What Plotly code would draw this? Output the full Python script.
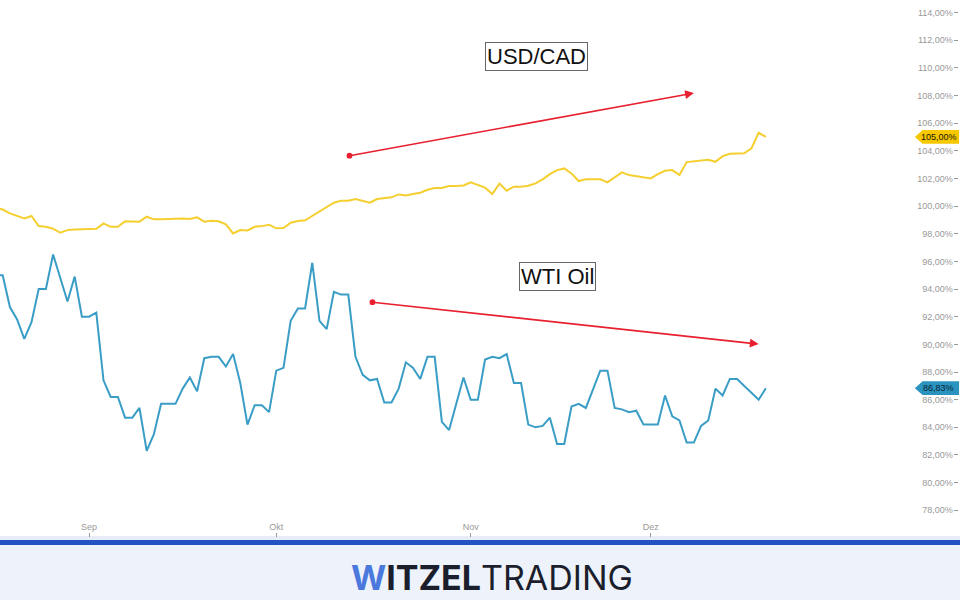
import plotly.graph_objects as go

# ---- data (one point per trading day, index-based x) ----
wti_oil = [95.0, 95.0, 92.7, 91.8, 90.4, 91.6, 94.0, 94.0, 96.5, 94.8, 93.1, 94.9, 92.0, 92.0, 92.3,
           87.4, 86.2, 86.2, 84.7, 84.7, 85.4, 82.3, 83.5, 85.7, 85.7, 85.7, 86.8, 87.6, 86.6, 89.0,
           89.1, 89.1, 88.4, 89.3, 87.2, 84.2, 85.6, 85.6, 85.1, 88.1, 88.3, 91.7, 92.6, 92.6, 95.9,
           91.7, 91.1, 93.8, 93.6, 93.6, 89.1, 87.8, 87.4, 87.5, 85.8, 85.8, 86.8, 88.7, 88.3, 87.5,
           89.1, 89.1, 84.4, 83.8, 85.7, 87.6, 86.0, 86.0, 88.9, 89.1, 89.0, 89.3, 87.2, 87.2, 84.2,
           84.0, 84.1, 84.7, 82.8, 82.8, 85.5, 85.7, 85.4, 86.7, 88.1, 88.1, 85.4, 85.3, 85.1, 85.2,
           84.2, 84.2, 84.2, 86.3, 84.8, 84.5, 82.9, 82.9, 84.1, 84.5, 86.8, 86.3, 87.5, 87.5, 87.0,
           86.5, 86.0, 86.83]
usd_cad = [99.9, 99.75, 99.47, 99.3, 99.1, 99.28, 98.55, 98.5, 98.36, 98.07, 98.26, 98.31, 98.33, 98.33,
           98.36, 98.75, 98.5, 98.5, 98.9, 98.88, 98.87, 99.23, 99.04, 99.04, 99.06, 99.1, 99.1, 99.06,
           99.18, 98.87, 98.94, 98.9, 98.68, 98.02, 98.26, 98.24, 98.5, 98.55, 98.65, 98.39, 98.41, 98.8,
           98.92, 98.97, 99.28, 99.57, 99.92, 100.24, 100.38, 100.38, 100.51, 100.38, 100.24, 100.51,
           100.55, 100.63, 100.84, 100.77, 100.87, 100.96, 101.18, 101.3, 101.3, 101.45, 101.45, 101.49,
           101.71, 101.52, 101.33, 100.87, 101.62, 101.11, 101.4, 101.4, 101.47, 101.64, 101.93, 102.31,
           102.6, 102.72, 102.36, 101.81, 101.93, 101.93, 101.93, 101.71, 102.1, 102.44, 102.24, 102.17,
           102.07, 102.0, 102.31, 102.55, 102.6, 102.24, 103.18, 103.25, 103.28, 103.35, 103.2, 103.61,
           103.78, 103.81, 103.81, 104.17, 105.3, 105.0]
month_labels = ["Sep", "Okt", "Nov", "Dez"]
month_index = [13, 39, 66, 91]
y_ticks = list(range(78, 115, 2))
y_ticktext = [f"{v},00%" for v in y_ticks]
usd_last_label = "105,00%"
wti_last_label = "86,83%"

x = list(range(len(wti_oil)))

GOLD = "#f5cf2f"
BLUE = "#3a9dc6"
RED = "#e8202f"

fig = go.Figure()
fig.add_trace(go.Scatter(x=x, y=usd_cad, mode="lines", line=dict(color=GOLD, width=2),
                         showlegend=False, hoverinfo="skip"))
fig.add_trace(go.Scatter(x=x, y=wti_oil, mode="lines", line=dict(color=BLUE, width=2),
                         showlegend=False, hoverinfo="skip"))

# red trend arrows (start dot + arrowhead)
arrows = [((48.96, 103.62), (97.0, 108.17)), ((52.15, 93.06), (106.0, 90.02))]
for (x0, y0), (x1, y1) in arrows:
    fig.add_annotation(x=x1, y=y1, ax=x0, ay=y0, xref="x", yref="y", axref="x", ayref="y",
                       showarrow=True, arrowhead=2, arrowsize=1.1, arrowwidth=1.6,
                       arrowcolor=RED, text="", startarrowhead=6, arrowside="end+start",
                       startarrowsize=0.9)

# labels in boxes
fig.add_annotation(x=536 / 960, y=1 - 57 / 600, xref="paper", yref="paper", text="USD/CAD",
                   xanchor="center", yanchor="middle",
                   showarrow=False, font=dict(family="Liberation Sans, Arial", size=22, color="#111"),
                   bordercolor="#666", borderwidth=1, borderpad=1, bgcolor="white")
fig.add_annotation(x=557 / 960, y=1 - 276 / 600, xref="paper", yref="paper", text="WTI Oil",
                   xanchor="center", yanchor="middle",
                   showarrow=False, font=dict(family="Liberation Sans, Arial", size=22, color="#111"),
                   bordercolor="#666", borderwidth=1, borderpad=1, bgcolor="white")

# price tags on right
shapes = []
for val, col, txt, tcol in [(usd_cad[-1], "#f7c800", usd_last_label, "#1a1400"),
                            (wti_oil[-1], "#2a93bf", wti_last_label, "#0a2333")]:
    h = 0.5
    shapes.append(dict(type="path", xref="paper", yref="y",
                       path=f"M 0.953 {val} L 0.961 {val + h} L 0.999 {val + h} L 0.999 {val - h} L 0.961 {val - h} Z",
                       fillcolor=col, line=dict(width=0), layer="above"))
    fig.add_annotation(x=0.978, y=val, xref="paper", yref="y", text=txt, showarrow=False,
                       xanchor="center", yanchor="middle",
                       font=dict(family="Liberation Sans, Arial", size=9, color=tcol))

# footer
shapes += [
    dict(type="rect", xref="paper", yref="paper", x0=0, x1=1, y0=0, y1=1 - 545 / 600,
         fillcolor="#eef3fb", line=dict(width=0), layer="below"),
    dict(type="rect", xref="paper", yref="paper", x0=0, x1=1, y0=1 - 545 / 600, y1=1 - 540 / 600,
         fillcolor="#2352c2", line=dict(width=0)),
    dict(type="rect", xref="paper", yref="paper", x0=0, x1=1, y0=1 - 540 / 600, y1=1 - 536 / 600,
         fillcolor="#e6edf8", line=dict(width=0), layer="below"),
]
fig.add_annotation(x=492 / 960, y=1 - 577 / 600, xref="paper", yref="paper",
                   xanchor="center", yanchor="middle",
                   text="<b><span style='color:#4a78dc'>W</span>ITZEL</b>TRADING", showarrow=False,
                   font=dict(family="Inter, Roboto", size=34, color="#1b1e2c"))

fig.update_layout(
    width=960, height=600, margin=dict(l=0, r=0, t=0, b=0),
    paper_bgcolor="white", plot_bgcolor="white", shapes=shapes,
    xaxis=dict(domain=[0, 0.998], range=[0.625, 133.7], showgrid=False, zeroline=False,
               tickmode="array", tickvals=month_index, ticktext=month_labels,
               ticks="inside", ticklen=4, tickcolor="#999", ticklabelposition="inside",
               tickfont=dict(family="Liberation Sans, Arial", size=9, color="#999"),
               showline=False),
    yaxis=dict(domain=[1 - 537 / 600, 1], range=[76.07, 114.9], side="right", showgrid=False,
               zeroline=False, tickmode="array", tickvals=y_ticks, ticktext=y_ticktext,
               ticks="inside", ticklen=4, tickcolor="#999", ticklabelposition="inside",
               tickfont=dict(family="Liberation Sans, Arial", size=9, color="#999"),
               showline=False),
)

fig.write_html("out.html", config={"displayModeBar": False},
               post_script="document.body.style.margin='0';document.body.style.overflow='hidden';")
